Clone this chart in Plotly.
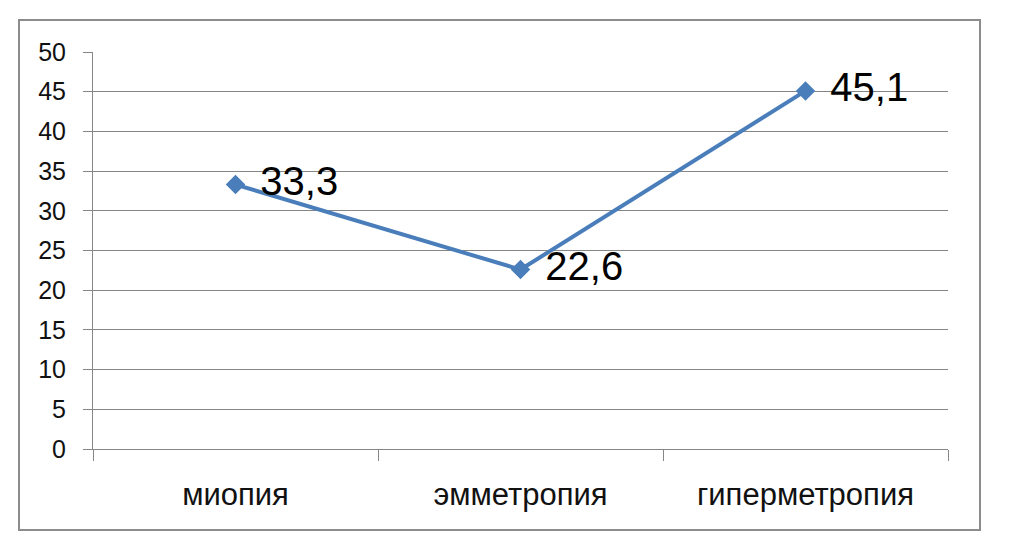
import plotly.graph_objects as go

categories = ["миопия", "эмметропия", "гиперметропия"]
values = [33.3, 22.6, 45.1]
value_labels = ["33,3", "22,6", "45,1"]
y_ticks = [0, 5, 10, 15, 20, 25, 30, 35, 40, 45, 50]

# page body has an 8px margin; figure is sized to fit the 1009x547 window
OFF = 8
W, H = 1009 - OFF, 547 - OFF
L, R, T, B = 93 - OFF, 948 - OFF, 52 - OFF, 449 - OFF
pw, ph = R - L, B - T

FONT = "Liberation Sans, Arial, sans-serif"

fig = go.Figure()
fig.add_trace(go.Scatter(
    x=categories, y=values,
    mode="lines+markers+text",
    line=dict(color="#4a7ebb", width=4),
    marker=dict(symbol="diamond", size=15, color="#4a7ebb"),
    text=[" \u200a" + t for t in value_labels],
    textposition="middle right",
    textfont=dict(family=FONT, size=40, color="#000000"),
    cliponaxis=False,
    showlegend=False,
))

def px_to_paper_x(px):
    return (px - OFF - L) / pw

def px_to_paper_y(py):
    return (B - (py - OFF)) / ph

fig.add_shape(type="rect", xref="paper", yref="paper",
              x0=px_to_paper_x(19), x1=px_to_paper_x(980),
              y0=px_to_paper_y(530), y1=px_to_paper_y(20),
              line=dict(color="#8c8c8c", width=2), layer="below")

fig.update_layout(
    width=W, height=H,
    margin=dict(l=L, r=W - R, t=T, b=H - B, pad=0),
    paper_bgcolor="white", plot_bgcolor="white",
    font=dict(family=FONT, color="#000000"),
)
fig.update_xaxes(
    type="category", range=[-0.5, 2.5],
    tickson="boundaries", ticks="outside", ticklen=11, tickcolor="#868686", tickwidth=1,
    showline=True, linecolor="#868686", linewidth=1,
    showgrid=False, tickfont=dict(size=31, color="#111111"), ticklabelstandoff=18,
)
fig.update_yaxes(
    range=[0, 50], tickvals=y_ticks, ticks="outside", ticklen=9,
    tickcolor="#868686", tickwidth=1,
    showline=True, linecolor="#868686", linewidth=1,
    showgrid=True, gridcolor="#868686", gridwidth=1,
    zeroline=False, tickfont=dict(size=25, color="#111111"), ticklabelstandoff=12,
)

fig.write_html("out.html")
